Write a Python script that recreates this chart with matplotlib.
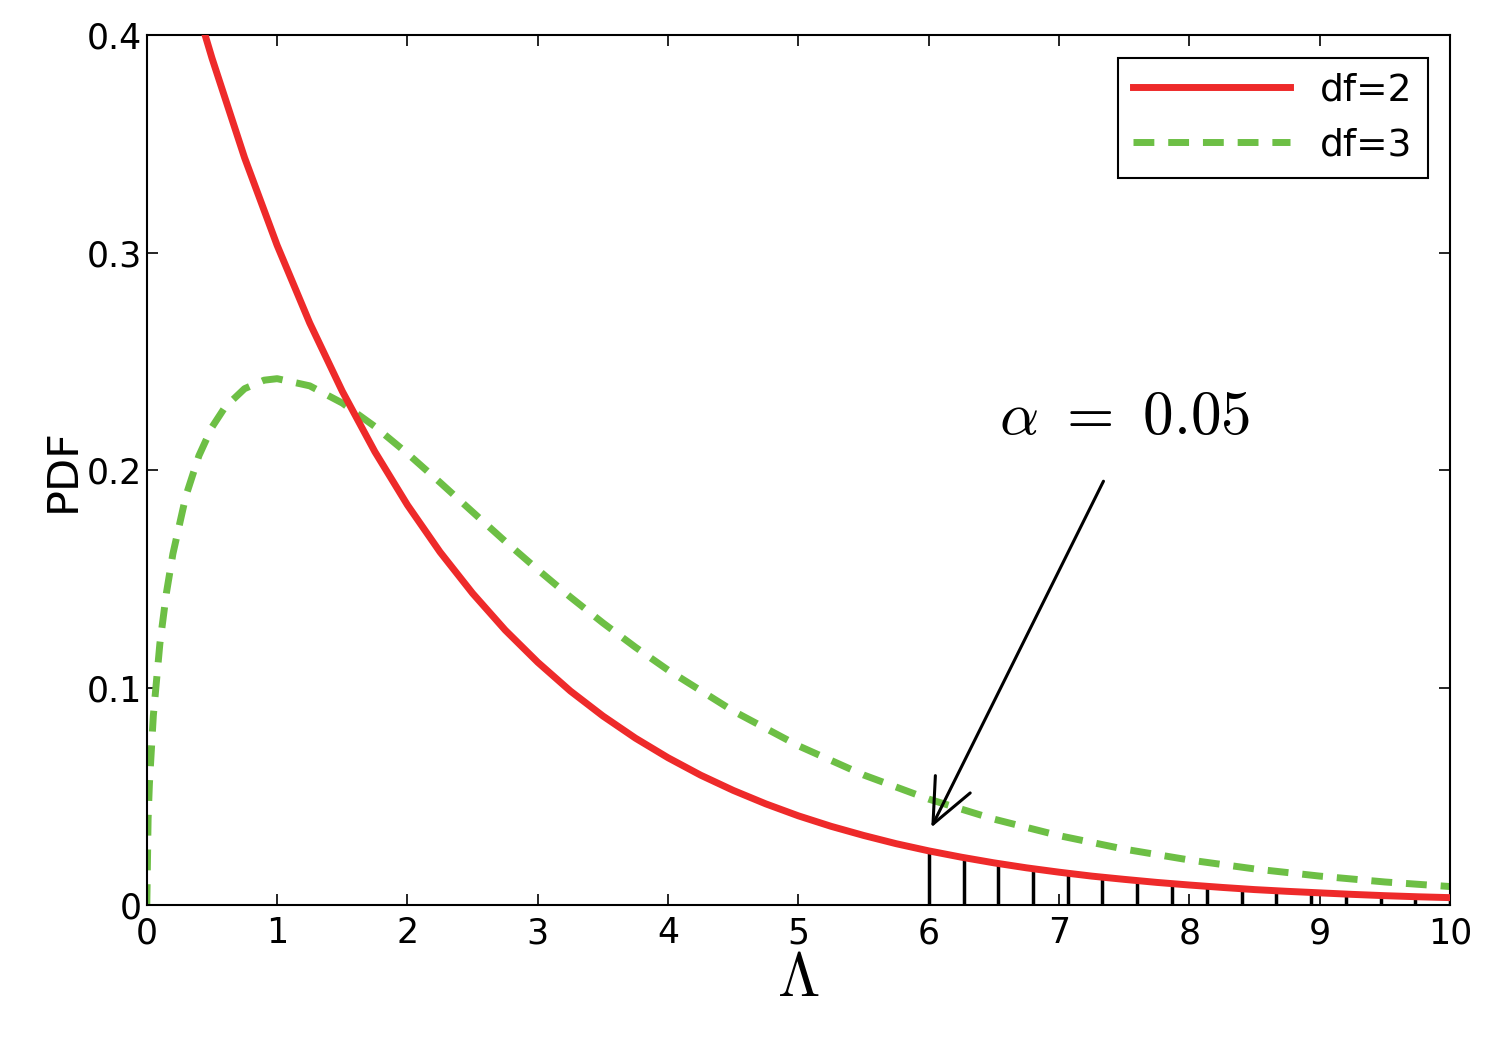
import numpy as np
import matplotlib.pyplot as plt

plt.rcParams['mathtext.fontset'] = 'cm'
plt.rcParams['font.family'] = 'DejaVu Sans'

# chi-square pdf, df=2
x_df2 = [0, 0.25, 0.375, 0.5, 0.75, 1, 1.25, 1.5, 1.75, 2, 2.25, 2.5, 2.75, 3,
         3.25, 3.5, 3.75, 4, 4.25, 4.5, 4.75, 5, 5.25, 5.5, 5.75, 6, 6.25,
         6.5, 6.75, 7, 7.25, 7.5, 7.75, 8, 8.25, 8.5, 8.75, 9, 9.25, 9.5,
         9.75, 10]
y_df2 = [0.5, 0.4412, 0.4145, 0.3894, 0.3436, 0.3033, 0.2676, 0.2362, 0.2084,
         0.1839, 0.1623, 0.1433, 0.1264, 0.1116, 0.0984, 0.0869, 0.0767,
         0.0677, 0.0597, 0.0527, 0.0465, 0.0410, 0.0362, 0.0320, 0.0282,
         0.0249, 0.0220, 0.0194, 0.0171, 0.0151, 0.0133, 0.0118, 0.0104,
         0.0092, 0.0081, 0.0071, 0.0063, 0.0056, 0.0049, 0.0043, 0.0038,
         0.0034]

# chi-square pdf, df=3
x_df3 = [0, 0.01, 0.02, 0.05, 0.1, 0.15, 0.2, 0.3, 0.4, 0.5, 0.6, 0.75, 0.9,
         1, 1.25, 1.5, 1.75, 2, 2.25, 2.5, 2.75, 3, 3.25, 3.5, 3.75, 4,
         4.5, 5, 5.5, 6, 6.5, 7, 7.5, 8, 8.5, 9, 9.5, 10]
y_df3 = [0, 0.0397, 0.0558, 0.0870, 0.1200, 0.1433, 0.1614, 0.1881, 0.2066,
         0.2197, 0.2289, 0.2374, 0.2413, 0.2420, 0.2387, 0.2308, 0.2200,
         0.2076, 0.1943, 0.1807, 0.1672, 0.1542, 0.1416, 0.1297, 0.1185,
         0.1080, 0.0892, 0.0732, 0.0598, 0.0487, 0.0395, 0.0319, 0.0257,
         0.0207, 0.0166, 0.0133, 0.0106, 0.0085]

# rejection region hatches
x_tail = [6, 6.267, 6.533, 6.8, 7.067, 7.333, 7.6, 7.867, 8.133, 8.4, 8.667,
          8.933, 9.2, 9.467, 9.733, 10]
y_tail = [0.0249, 0.0218, 0.0191, 0.0167, 0.0146, 0.0128, 0.0112, 0.0098,
          0.0086, 0.0075, 0.0066, 0.0057, 0.0050, 0.0044, 0.0039, 0.0034]

fig = plt.figure(figsize=(14.98, 10.61), dpi=100)
ax = fig.add_axes([0.098, 0.147, 0.87, 0.82])

ax.vlines(x_tail, 0, y_tail, color='black', lw=2.5, zorder=1)
ax.plot(x_df2, y_df2, color='#ee2a2a', lw=5, label='df=2', zorder=3)
ax.plot(x_df3, y_df3, color='#6dbf45', lw=5, ls=(0, (3, 2)), label='df=3', zorder=2)

ax.set_xlim(0, 10)
ax.set_ylim(0, 0.4)
ax.set_xticks(range(11))
ax.set_yticks([0, 0.1, 0.2, 0.3, 0.4])
ax.set_yticklabels(['0', '0.1', '0.2', '0.3', '0.4'])
ax.tick_params(direction='in', top=True, right=True, labelsize=25, length=8, width=1.2)
ax.tick_params(axis='x', pad=8)
for s in ax.spines.values():
    s.set_linewidth(1.5)

ax.set_xlabel(r'$\Lambda$', fontsize=44, labelpad=0)
ax.set_ylabel('PDF', fontsize=31, labelpad=2)

ax.annotate('', xy=(6.01, 0.0345), xytext=(7.35, 0.196),
            arrowprops=dict(arrowstyle='->,head_length=0.8,head_width=0.35',
                            color='black', lw=2.2, mutation_scale=40))
ax.text(7.5, 0.224, r'$\alpha\ =\ 0.05$', fontsize=44, ha='center', va='center')

leg = ax.legend(loc='upper right', fontsize=27, fancybox=False, edgecolor='black',
                handlelength=4.2, borderpad=0.4, framealpha=1, borderaxespad=0.6)
leg.get_frame().set_linewidth(1.5)

fig.savefig('out.png', dpi=100)
